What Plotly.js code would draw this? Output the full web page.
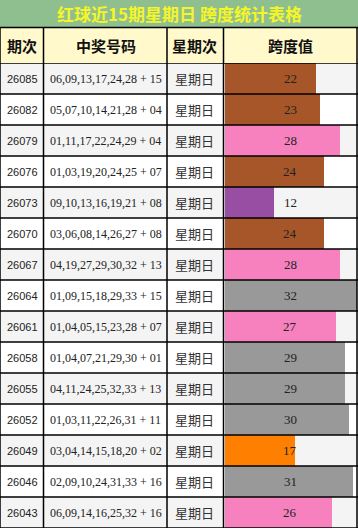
<!DOCTYPE html>
<html>
<head>
<meta charset="utf-8">
<script src="https://cdn.plot.ly/plotly-3.0.1.min.js"></script>
<style>html,body{margin:0;padding:0;background:#fff;}#chart{width:358px;height:529px;}</style>
</head>
<body>
<div id="chart"></div>
<script>
const titleText = "红球近15期星期日 跨度统计表格";
const headers = ["期次", "中奖号码", "星期次", "跨度值"];
const issues = ["26085","26082","26079","26076","26073","26070","26067","26064","26061","26058","26055","26052","26049","26046","26043"];
const numbers = [
  "06,09,13,17,24,28 + 15",
  "05,07,10,14,21,28 + 04",
  "01,11,17,22,24,29 + 04",
  "01,03,19,20,24,25 + 07",
  "09,10,13,16,19,21 + 08",
  "03,06,08,14,26,27 + 08",
  "04,19,27,29,30,32 + 13",
  "01,09,15,18,29,33 + 15",
  "01,04,05,15,23,28 + 07",
  "01,04,07,21,29,30 + 01",
  "04,11,24,25,32,33 + 13",
  "01,03,11,22,26,31 + 11",
  "03,04,14,15,18,20 + 02",
  "02,09,10,24,31,33 + 16",
  "06,09,14,16,25,32 + 16"
];
const weekdays = ["星期日","星期日","星期日","星期日","星期日","星期日","星期日","星期日","星期日","星期日","星期日","星期日","星期日","星期日","星期日"];
const spans = [22,23,28,24,12,24,28,32,27,29,29,30,17,31,26];

function colorFor(v){
  if (v <= 12) return "#984ea3";
  if (v <= 20) return "#ff7f00";
  if (v <= 25) return "#a65628";
  if (v <= 28) return "#f781bf";
  return "#999999";
}

const W = 358, H = 529;
const px = x => x / W;
const py = y => 1 - y / H;
const colEdges = [0, 43.5, 167, 223.5, 357];
const colCenters = [22, 105.5, 195, 290];
const n = issues.length;

const shapes = [];
const annotations = [];
// title band
shapes.push({type:"rect", xref:"paper", yref:"paper", x0:0, x1:1, y0:py(27), y1:1, fillcolor:"#8fbf8f", line:{width:0}, layer:"below"});
// header band
shapes.push({type:"rect", xref:"paper", yref:"paper", x0:0, x1:1, y0:py(63), y1:py(27), fillcolor:"#fff9cc", line:{width:0}, layer:"below"});
// row backgrounds
for (let i = 0; i < n; i++) {
  shapes.push({type:"rect", xref:"paper", yref:"y", x0:0, x1:1, y0:i-0.5, y1:i+0.5,
    fillcolor: i % 2 === 0 ? "#f4f4f4" : "#ffffff", line:{width:0}, layer:"below"});
}
const lineStyle = {color:"#000", width:1.5};
// horizontal lines
shapes.push({type:"line", xref:"paper", yref:"paper", x0:0, x1:1, y0:py(27.5), y1:py(27.5), line:lineStyle});
for (let i = 0; i <= n; i++) {
  shapes.push({type:"line", xref:"paper", yref:"y", x0:0, x1:1, y0:i-0.5, y1:i-0.5, line:lineStyle});
}
// vertical lines
colEdges.forEach(x => {
  shapes.push({type:"line", xref:"paper", yref:"paper", x0:px(x), x1:px(x), y0:py(528), y1:py(27.5), line:lineStyle});
});

annotations.push({xref:"paper", yref:"paper", x:0.5, y:py(13.5), text:"<b>"+titleText+"</b>", showarrow:false,
  font:{family:"Noto Sans CJK SC, Liberation Sans", size:17, color:"#f5f528"}, xanchor:"center", yanchor:"middle"});
headers.forEach((h, k) => {
  annotations.push({xref:"paper", yref:"paper", x:px(colCenters[k]), y:py(45.5), text:"<b>"+h+"</b>", showarrow:false,
    font:{family:"Noto Sans CJK SC, Liberation Sans", size:15, color:"#111"}, xanchor:"center", yanchor:"middle"});
});
for (let i = 0; i < n; i++) {
  annotations.push({xref:"paper", yref:"y", x:px(colCenters[0]), y:i, text:issues[i], showarrow:false,
    font:{family:"Liberation Sans", size:11, color:"#222"}, xanchor:"center", yanchor:"middle"});
  annotations.push({xref:"paper", yref:"y", x:px(colCenters[1]), y:i, text:numbers[i], showarrow:false,
    font:{family:"Liberation Serif", size:12, color:"#222"}, xanchor:"center", yanchor:"middle"});
  annotations.push({xref:"paper", yref:"y", x:px(colCenters[2]), y:i, text:weekdays[i], showarrow:false,
    font:{family:"Noto Sans CJK SC", size:13, color:"#333"}, xanchor:"center", yanchor:"middle"});
  annotations.push({xref:"paper", yref:"y", x:px(colCenters[3]), y:i, text:String(spans[i]), showarrow:false,
    font:{family:"Liberation Serif", size:13, color:"#222"}, xanchor:"center", yanchor:"middle"});
}

const trace = {
  type:"bar", orientation:"h",
  x: spans, y: spans.map((_, i) => i),
  width: 1,
  marker:{color: spans.map(colorFor), line:{width:0}},
  hoverinfo:"skip"
};

const layout = {
  width: W, height: H,
  margin:{l:0, r:0, t:0, b:0},
  paper_bgcolor:"#ffffff", plot_bgcolor:"rgba(0,0,0,0)",
  showlegend:false,
  bargap:0,
  xaxis:{domain:[px(224.5), px(357)], range:[0, 32], visible:false, fixedrange:true},
  yaxis:{domain:[py(528), py(63)], range:[n-0.5, -0.5], visible:false, fixedrange:true},
  shapes: shapes,
  annotations: annotations
};

Plotly.newPlot("chart", [trace], layout, {staticPlot:true, displayModeBar:false});
</script>
</body>
</html>
